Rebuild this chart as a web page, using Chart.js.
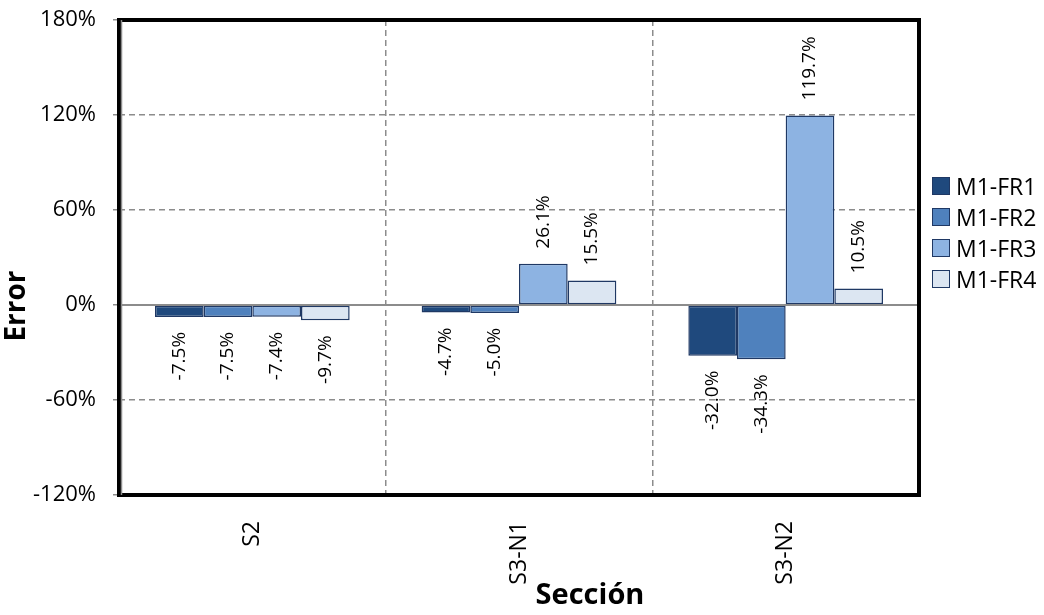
<!DOCTYPE html>
<html>
<head>
<meta charset="utf-8">
<script src="https://cdn.jsdelivr.net/npm/chart.js@4/dist/chart.umd.min.js"></script>
<style>
  html, body { margin:0; padding:0; background:#fff; }
  #wrap { position:relative; width:1044px; height:615px; font-family:'Open Sans',sans-serif; }
  #legend { position:absolute; left:932px; top:170px; }
  .lg-item { display:flex; align-items:center; height:31px; font-size:23px; color:#000; }
  .lg-box { width:16px; height:16px; border:1px solid #1F3864; margin-right:6px; }
</style>
</head>
<body>
<div id="wrap">
  <canvas id="c" width="1044" height="615"></canvas>
  <div id="legend"></div>
</div>
<script>
// datos
const categories = ['S2', 'S3-N1', 'S3-N2'];
const seriesNames = ['M1-FR1', 'M1-FR2', 'M1-FR3', 'M1-FR4'];
const fr1 = [-7.5, -4.7, -32.0];
const fr2 = [-7.5, -5.0, -34.3];
const fr3 = [-7.4, 26.1, 119.7];
const fr4 = [-9.7, 15.5, 10.5];
const yTicks = [-120, -60, 0, 60, 120, 180];

const COLOURS = ['#1F497D', '#4F81BD', '#8DB3E2', '#DCE6F2'];
const EDGE = '#1F3864';
const GRID = '#8C8C8C';
const FONT = "'Open Sans', sans-serif";

const seriesValues = [fr1, fr2, fr3, fr4];

// etiquetas de valor giradas, encima/debajo de cada barra
const valueLabels = {
  id: 'valueLabels',
  afterDatasetsDraw(chart) {
    const ctx = chart.ctx;
    const y = chart.scales.y;
    // línea del cero, continua
    ctx.save();
    ctx.strokeStyle = GRID;
    ctx.lineWidth = 2;
    ctx.beginPath();
    ctx.moveTo(chart.chartArea.left, y.getPixelForValue(0));
    ctx.lineTo(chart.chartArea.right, y.getPixelForValue(0));
    ctx.stroke();
    ctx.restore();

    ctx.save();
    ctx.font = '19px ' + FONT;
    ctx.fillStyle = '#000';
    ctx.textBaseline = 'middle';
    chart.data.datasets.forEach((ds, i) => {
      chart.getDatasetMeta(i).data.forEach((bar, j) => {
        const v = ds.data[j];
        ctx.save();
        if (v >= 0) {
          ctx.translate(bar.x, bar.y - 15);
          ctx.rotate(-Math.PI / 2);
          ctx.textAlign = 'left';
        } else {
          ctx.translate(bar.x, bar.y + 15);
          ctx.rotate(-Math.PI / 2);
          ctx.textAlign = 'right';
        }
        ctx.fillText(v.toFixed(1) + '%', 0, 0);
        ctx.restore();
      });
    });
    ctx.restore();
  },
  afterDraw(chart) {
    const ctx = chart.ctx;
    const a = chart.chartArea;
    ctx.save();
    // marco negro grueso
    ctx.strokeStyle = '#000';
    ctx.lineWidth = 4;
    ctx.strokeRect(a.left, a.top, a.right - a.left, a.bottom - a.top);
    // eje vertical gris
    ctx.strokeStyle = GRID;
    ctx.lineWidth = 1.5;
    ctx.beginPath();
    ctx.moveTo(a.left + 2.5, a.top);
    ctx.lineTo(a.left + 2.5, a.bottom);
    ctx.stroke();
    // títulos de ejes
    ctx.fillStyle = '#000';
    ctx.font = 'bold 29px ' + FONT;
    ctx.textAlign = 'center';
    ctx.textBaseline = 'middle';
    ctx.fillText('Sección', 590, 596);
    ctx.translate(17, 306);
    ctx.rotate(-Math.PI / 2);
    ctx.font = 'bold 28px ' + FONT;
    ctx.fillText('Error', 0, 0);
    ctx.restore();
  }
};

const datasets = seriesNames.map((name, i) => ({
  label: name,
  data: seriesValues[i],
  backgroundColor: COLOURS[i],
  borderColor: EDGE,
  borderWidth: 1.5,
  borderSkipped: false,
  barPercentage: 1,
  categoryPercentage: 0.73,
}));

new Chart(document.getElementById('c'), {
  type: 'bar',
  data: { labels: categories, datasets },
  options: {
    responsive: false,
    animation: false,
    layout: { padding: { top: 20, right: 125, left: 0, bottom: 0 } },
    plugins: { legend: { display: false }, tooltip: { enabled: false } },
    scales: {
      x: {
        afterFit(s) { s.height = 120; s.paddingLeft = 0; s.paddingRight = 0; },
        grid: { color: GRID, lineWidth: 1.5, drawTicks: false },
        border: { display: false, dash: [6, 4] },
        ticks: {
          minRotation: 90, maxRotation: 90, padding: 26,
          color: '#000', font: { family: FONT, size: 23 },
        },
      },
      y: {
        min: -120, max: 180,
        afterFit(s) { s.width = 119; s.paddingTop = 0; s.paddingBottom = 0; },
        afterBuildTicks(s) { s.ticks = yTicks.map(v => ({ value: v })); },
        grid: {
          color: ctx => (ctx.tick && ctx.tick.value === 0 ? 'rgba(0,0,0,0)' : GRID),
          lineWidth: 1.5,
          tickLength: 6, tickColor: GRID, tickWidth: 1.5, tickBorderDash: [],
        },
        border: { display: false, dash: [6, 4] },
        ticks: {
          padding: 17, color: '#000', font: { family: FONT, size: 22 },
          callback: v => v + '%',
        },
      },
    },
  },
  plugins: [valueLabels],
});

// leyenda a la derecha
document.getElementById('legend').innerHTML = seriesNames.map((n, i) =>
  `<div class="lg-item"><div class="lg-box" style="background:${COLOURS[i]}"></div>${n}</div>`).join('');
</script>
</body>
</html>
